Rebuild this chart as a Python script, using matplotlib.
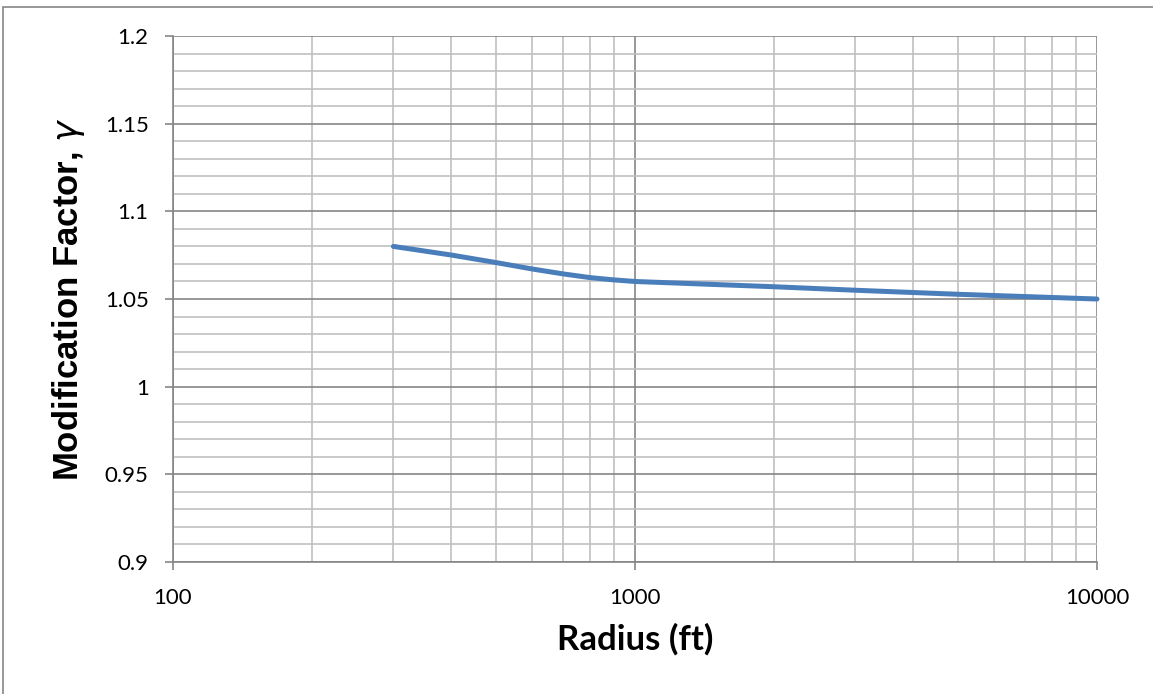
import numpy as np
import matplotlib.pyplot as plt
from matplotlib.patches import Rectangle
from matplotlib.ticker import FixedLocator, NullFormatter, MultipleLocator

# 讀圖估計的資料點
radius = [300, 400, 500, 600, 700, 800, 900, 1000, 2000, 3000, 5000, 10000]
gamma = [1.080, 1.0751, 1.0708, 1.0671, 1.0643, 1.0622, 1.0609, 1.0600,
         1.0570, 1.0550, 1.0527, 1.0500]

x_ticks = [100, 1000, 10000]
x_tick_labels = ["100", "1000", "10000"]
y_ticks = [0.9, 0.95, 1.0, 1.05, 1.1, 1.15, 1.2]
y_tick_labels = ["0.9", "0.95", "1", "1.05", "1.1", "1.15", "1.2"]

fig = plt.figure(figsize=(11.53, 6.94), dpi=100)
ax = fig.add_axes([0.150, 0.1902, 0.8014, 0.7579])

# 外框（Excel 圖表區）
fig.patches.append(Rectangle((3 / 1153, -0.1), 1.2, 1 - 7 / 694 + 0.1,
                             transform=fig.transFigure, fill=False,
                             edgecolor='#868686', linewidth=1.2))

ax.set_xscale('log')
ax.set_xlim(100, 10000)
ax.set_ylim(0.9, 1.2)

ax.xaxis.set_major_locator(FixedLocator(x_ticks))
ax.set_xticklabels(x_tick_labels)
minor_x = [m * d for d in (100, 1000) for m in range(2, 10)]
ax.xaxis.set_minor_locator(FixedLocator(minor_x))
ax.xaxis.set_minor_formatter(NullFormatter())

ax.yaxis.set_major_locator(FixedLocator(y_ticks))
ax.set_yticklabels(y_tick_labels)
ax.yaxis.set_minor_locator(MultipleLocator(0.01))

ax.grid(True, which='minor', color='#c0c0c0', linewidth=1.2)
ax.grid(True, which='major', color='#868686', linewidth=1.2)
ax.set_axisbelow(True)

for s in ['top', 'right']:
    ax.spines[s].set_visible(False)
for s in ['left', 'bottom']:
    ax.spines[s].set_color('#868686')
    ax.spines[s].set_linewidth(1.2)

ax.tick_params(which='major', direction='out', length=5.5, color='#868686',
               width=1.2, labelsize=16)
ax.tick_params(axis='y', pad=12)
ax.tick_params(axis='x', pad=13)
ax.tick_params(which='minor', length=0)
for lab in ax.get_xticklabels() + ax.get_yticklabels():
    lab.set_family(['Lato', 'DejaVu Sans'])

ax.plot(radius, gamma, color='#4a7ebb', linewidth=3.6, solid_capstyle='round',
        clip_on=False, zorder=3)

ax.set_xlabel("Radius (ft)", fontsize=25, fontweight='bold',
              family=['Lato', 'DejaVu Sans'], labelpad=11)
ax.set_ylabel(r"Modification Factor, $\gamma$", fontsize=25, fontweight='bold',
              family=['Liberation Sans', 'DejaVu Sans'], labelpad=13)

fig.savefig("out.png", dpi=100)
